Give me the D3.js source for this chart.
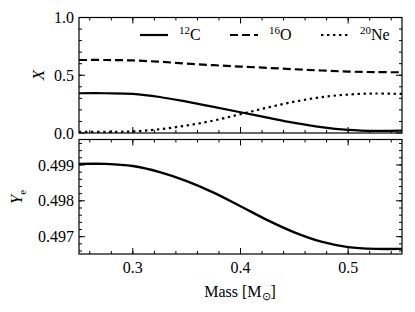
<!DOCTYPE html>
<html>
<head>
<meta charset="utf-8">
<script src="https://cdn.jsdelivr.net/npm/d3@7"></script>
<style>
  body { margin: 0; background: #fff; }
</style>
</head>
<body>
<svg id="chart" width="415" height="312"></svg>
<script>
// mass coordinate [Msun]
var mass = [0.25, 0.275, 0.30, 0.325, 0.35, 0.375, 0.40, 0.425, 0.45, 0.475, 0.50, 0.525, 0.55];
// mass fractions
var carbon = [0.344, 0.344, 0.339, 0.312, 0.271, 0.226, 0.180, 0.133, 0.088, 0.051, 0.027, 0.018, 0.020];
var oxygen = [0.632, 0.632, 0.628, 0.617, 0.601, 0.587, 0.575, 0.564, 0.552, 0.541, 0.532, 0.527, 0.526];
var neon = [0.010, 0.010, 0.014, 0.033, 0.065, 0.108, 0.163, 0.220, 0.271, 0.310, 0.333, 0.342, 0.338];
// electron fraction
var ye = [0.49903, 0.49903, 0.49897, 0.49880, 0.49855, 0.49823, 0.49785, 0.49746, 0.49712, 0.49686, 0.49671, 0.49666, 0.49666];

var xTicks = [0.3, 0.4, 0.5];
var topTicks = [0.0, 0.5, 1.0];
var botTicks = [0.497, 0.498, 0.499];

var serif = 'Liberation Serif';

var svg = d3.select('#chart');
var left = 79, right = 402;

var x = d3.scaleLinear().domain([0.25, 0.55]).range([left, right]);
var yTop = d3.scaleLinear().domain([0, 1]).range([133, 17.5]);
var yBot = d3.scaleLinear().domain([0.496517, 0.49971]).range([254, 139.5]);

// draw a panel frame with inward ticks on all sides
function frame(y, major, minorStep, minorRange, xLabels, fmt) {
    var g = svg.append('g');
    var y0 = y.range()[0], y1 = y.range()[1];
    var xMinor = d3.range(0.26, 0.5501, 0.02);
    xMinor.forEach(function (v) {
        g.append('line').attr('x1', x(v)).attr('x2', x(v)).attr('y1', y0).attr('y2', y0 - 3);
        g.append('line').attr('x1', x(v)).attr('x2', x(v)).attr('y1', y1).attr('y2', y1 + 3);
    });
    xTicks.forEach(function (v) {
        g.append('line').attr('x1', x(v)).attr('x2', x(v)).attr('y1', y0).attr('y2', y0 - 6);
        g.append('line').attr('x1', x(v)).attr('x2', x(v)).attr('y1', y1).attr('y2', y1 + 6);
    });
    var yMinor = d3.range(minorRange[0], minorRange[1] + minorStep / 2, minorStep);
    yMinor.forEach(function (v) {
        g.append('line').attr('x1', left).attr('x2', left + 3).attr('y1', y(v)).attr('y2', y(v));
        g.append('line').attr('x1', right).attr('x2', right - 3).attr('y1', y(v)).attr('y2', y(v));
    });
    major.forEach(function (v) {
        g.append('line').attr('x1', left).attr('x2', left + 6).attr('y1', y(v)).attr('y2', y(v));
        g.append('line').attr('x1', right).attr('x2', right - 6).attr('y1', y(v)).attr('y2', y(v));
        g.append('text').attr('x', left - 5).attr('y', y(v)).attr('dy', '0.35em')
            .attr('text-anchor', 'end').attr('font-size', 16).text(fmt(v));
    });
    g.selectAll('line').attr('stroke', '#000').attr('stroke-width', 1);
    g.append('rect').attr('x', left).attr('y', y1).attr('width', right - left).attr('height', y0 - y1)
        .attr('fill', 'none').attr('stroke', '#000').attr('stroke-width', 1.2);
    if (xLabels) {
        xTicks.forEach(function (v) {
            g.append('text').attr('x', x(v)).attr('y', y0 + 19).attr('text-anchor', 'middle')
                .attr('font-size', 16).text(d3.format('.1f')(v));
        });
    }
}

frame(yTop, topTicks, 0.1, [0.1, 0.9], false, d3.format('.1f'));
frame(yBot, botTicks, 0.0002, [0.4966, 0.4996], true, d3.format('.3f'));

svg.append('clipPath').attr('id', 'clipTop').append('rect')
    .attr('x', left).attr('y', 17.5).attr('width', right - left).attr('height', 115.5);

function lineFor(vals, y) {
    return d3.line().curve(d3.curveCatmullRom.alpha(0.5))
        .x(function (d, i) { return x(mass[i]); })
        .y(function (d) { return y(d); })(vals);
}

var series = [
    { vals: carbon, dash: null, label: '12', el: 'C' },
    { vals: oxygen, dash: '8,4', label: '16', el: 'O' },
    { vals: neon, dash: '2.4,3.6', label: '20', el: 'Ne' }
];

series.forEach(function (s) {
    svg.append('path').attr('d', lineFor(s.vals, yTop)).attr('fill', 'none')
        .attr('stroke', '#000').attr('stroke-width', 2.2)
        .attr('stroke-dasharray', s.dash).attr('clip-path', 'url(#clipTop)');
});

svg.append('path').attr('d', lineFor(ye, yBot)).attr('fill', 'none')
    .attr('stroke', '#000').attr('stroke-width', 2.4);

// legend
var legX = [140, 230, 321];
series.forEach(function (s, i) {
    svg.append('line').attr('x1', legX[i]).attr('x2', legX[i] + 28).attr('y1', 35).attr('y2', 35)
        .attr('stroke', '#000').attr('stroke-width', 2.2).attr('stroke-dasharray', s.dash);
    var t = svg.append('text').attr('x', legX[i] + 39).attr('y', 40).attr('font-size', 16);
    t.append('tspan').attr('font-size', 11).attr('dy', -6).text(s.label);
    t.append('tspan').attr('dy', 6).text(s.el);
});

// axis labels
svg.append('text').attr('transform', 'translate(44,75) rotate(-90)').attr('text-anchor', 'middle')
    .attr('font-size', 17).attr('font-style', 'italic').text('X');
var yl = svg.append('text').attr('transform', 'translate(22,197) rotate(-90)').attr('text-anchor', 'middle')
    .attr('font-size', 17);
yl.append('tspan').attr('font-style', 'italic').text('Y');
yl.append('tspan').attr('font-size', 11).attr('dy', 4).text('e');

var xl = svg.append('text').attr('x', 240).attr('y', 297).attr('text-anchor', 'middle').attr('font-size', 16);
xl.append('tspan').text('Mass [M');
xl.append('tspan').attr('font-size', 11).attr('dy', 3).text('\u2299');
xl.append('tspan').attr('dy', -3).text(']');

// apply font to every text element directly
svg.selectAll('text').attr('font-family', serif).style('font-family', serif).attr('fill', '#000');
</script>
</body>
</html>
